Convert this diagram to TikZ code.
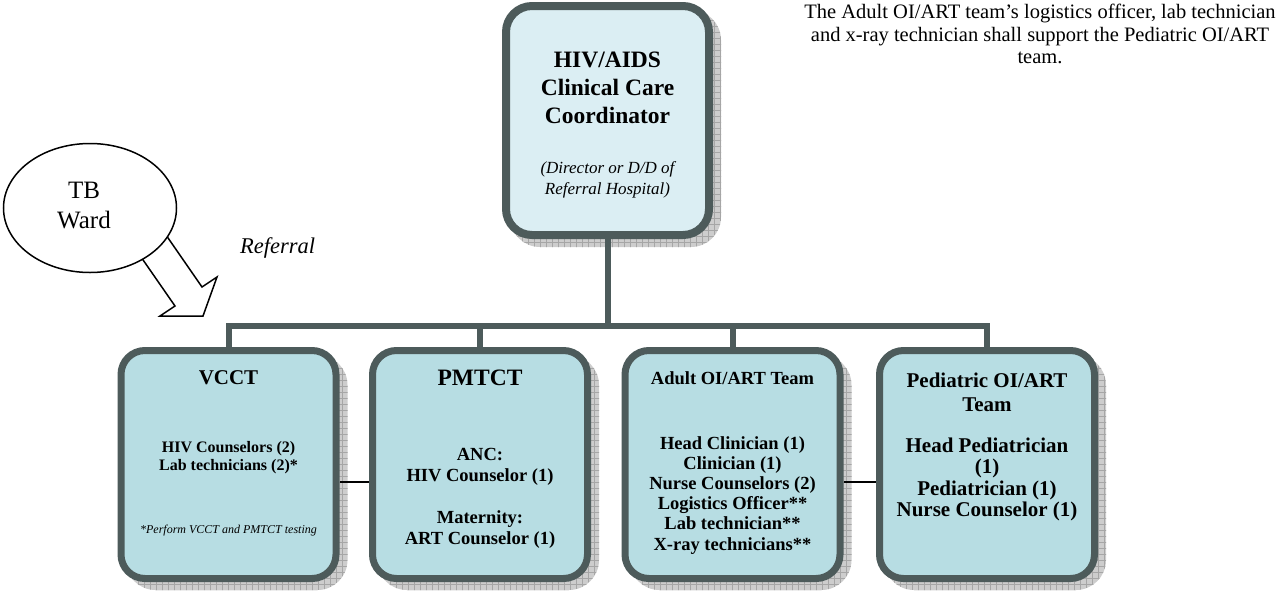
\documentclass[tikz,border=0pt]{standalone}
\usepackage{fontspec}
\setmainfont{Liberation Serif}
\usetikzlibrary{shapes.geometric,patterns}
\pgfdeclarelayer{back}
\pgfdeclarelayer{mid}
\pgfsetlayers{back,mid,main}
\pgfdeclarepatternformonly{shgrid}{\pgfqpoint{-1pt}{-1pt}}{\pgfqpoint{6pt}{6pt}}{\pgfqpoint{6pt}{6pt}}{%
  \pgfsetlinewidth{0.8pt}%
  \pgfpathmoveto{\pgfqpoint{0pt}{0pt}}\pgfpathlineto{\pgfqpoint{6pt}{0pt}}%
  \pgfpathmoveto{\pgfqpoint{0pt}{0pt}}\pgfpathlineto{\pgfqpoint{0pt}{6pt}}%
  \pgfusepath{stroke}}
\definecolor{bordc}{RGB}{77,91,91}
\definecolor{topfill}{RGB}{219,238,243}
\definecolor{botfill}{RGB}{183,221,227}
\definecolor{shadowc}{RGB}{205,205,205}
\tikzset{
  topbox/.style={draw=bordc, line width=8pt, fill=topfill, rounded corners=26pt,
    minimum width=203pt, minimum height=229pt, inner sep=0pt},
  botbox/.style={draw=bordc, line width=7pt, fill=botfill, rounded corners=24pt,
    minimum width=215pt, minimum height=228pt, inner sep=0pt},
  conn/.style={draw=bordc, line width=6pt},
  thinconn/.style={draw=black, line width=1.5pt},
  txt/.style={inner sep=0pt, align=center, anchor=north},
  shadowfill/.style={fill=shadowc, rounded corners=30pt},
  shadowgrid/.style={pattern=shgrid, pattern color=gray!70, rounded corners=30pt},
}
\newcommand{\fs}[2]{\fontsize{#1}{#2}\selectfont}
\begin{document}
\begin{tikzpicture}[x=1pt, y=-1pt]
\useasboundingbox (0,0) rectangle (1285,590);

% boxes
\node[topbox] (top) at (607.5,120.5) {};
\node[botbox] (vcct) at (228.5,464.5) {};
\node[botbox] (pmtct) at (480,464.5) {};
\node[botbox] (adult) at (732.5,464.5) {};
\node[botbox] (pedi) at (987,464.5) {};

% shadows
\begin{pgfonlayer}{back}
\foreach \b in {top,vcct,pmtct,adult,pedi}{
  \fill[shadowfill] ([shift={(8pt,-8pt)}]\b.south west) rectangle ([shift={(8pt,-8pt)}]\b.north east);
  \fill[shadowgrid] ([shift={(8pt,-8pt)}]\b.south west) rectangle ([shift={(8pt,-8pt)}]\b.north east);
}
\end{pgfonlayer}

% connectors
\coordinate (bus) at (607.5,326);
\begin{pgfonlayer}{mid}
\draw[conn] (top.south) -- (bus);
\draw[conn] (bus) -| (vcct.north);
\draw[conn] (bus) -| (pmtct.north);
\draw[conn] (bus) -| (adult.north);
\draw[conn] (bus) -| (pedi.north);
\end{pgfonlayer}
\draw[thinconn] ([yshift=-17.5pt]vcct.east) -- ([yshift=-17.5pt]pmtct.west);
\draw[thinconn] ([yshift=-17.5pt]adult.east) -- ([yshift=-17.5pt]pedi.west);

% texts in top box
\node[txt, font=\bfseries\fs{23.5}{28}] (toptitle) at (607.5,52) {HIV/AIDS\\Clinical Care\\Coordinator};
\node[txt, font=\itshape\fs{17}{21}] (topsub) at (607.5,161) {(Director or D/D of\\Referral Hospital)};

% VCCT
\node[txt, font=\bfseries\fs{21}{24}] (vccttitle) at (228.5,370) {VCCT};
\node[txt, font=\bfseries\fs{16}{18}] (vcctbody) at (228.5,441) {HIV Counselors (2)\\Lab technicians (2)*};
\node[inner sep=0pt, anchor=base, font=\itshape\fs{12}{14}] (vcctnote) at (228.5,533) {*Perform VCCT and PMTCT testing};

% PMTCT
\node[txt, font=\bfseries\fs{23.5}{27}] (pmtcttitle) at (480,370) {PMTCT};
\node[txt, font=\bfseries\fs{18.5}{21}] (pmtctbody) at (480,448) {ANC:\\HIV Counselor (1)\\[21pt]Maternity:\\ART Counselor (1)};

% Adult
\node[txt, font=\bfseries\fs{18.5}{21}] (adulttitle) at (732.5,371) {Adult OI/ART Team};
\node[txt, font=\bfseries\fs{18.5}{20.2}] (adultbody) at (732.5,436) {Head Clinician (1)\\Clinician (1)\\Nurse Counselors (2)\\Logistics Officer**\\Lab technician**\\X-ray technicians**};

% Pediatric
\node[txt, font=\bfseries\fs{21}{24}] (pedititle) at (987,373) {Pediatric OI/ART\\Team};
\node[txt, font=\bfseries\fs{21}{21.2}] (pedibody) at (987,438) {Head Pediatrician\\(1)\\Pediatrician (1)\\Nurse Counselor (1)};

% TB ward and referral arrow
\draw[line width=1.5pt, fill=white, line join=miter]
  (132,244) -- (175,306) -- (160,316) -- (203,316) -- (217,277) -- (202,287) -- (157,222) -- cycle;
\node[ellipse, draw=black, line width=1.5pt, fill=white, minimum width=173pt, minimum height=129pt, inner sep=0pt] (tb) at (90,208) {};
\node[txt, font=\fs{25}{30}] (tbtext) at (84,181.5) {TB\\Ward};
\node[inner sep=0pt, anchor=base west, font=\itshape\fs{22.5}{26}] (referral) at (240,253) {Referral};

% note
\node[txt, font=\fs{20.5}{22.5}] (note) at (1040,4) {The Adult OI/ART team’s logistics officer, lab technician\\and x-ray technician shall support the Pediatric OI/ART\\team.};
\end{tikzpicture}
\end{document}
